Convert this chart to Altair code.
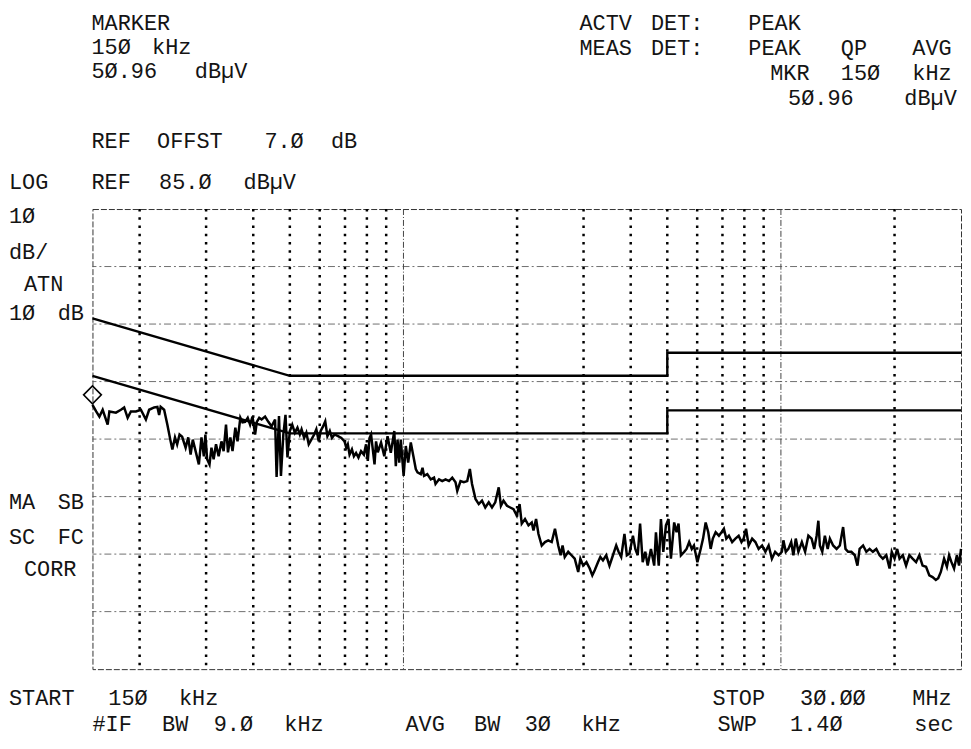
import altair as alt
import pandas as pd

# ---------------- instrument settings ----------------
START_MHZ = 0.15
STOP_MHZ = 30.0
N_POINTS = 401
REF_LEVEL = 85.0
BOTTOM_LEVEL = 5.0

# ---------------- measured trace (sweep point index, dBuV) ----------------
TRACE_IDX = [
    0.0, 1.7, 3.2, 4.7, 7.0, 7.8, 10.8, 13.1, 14.6, 16.2, 17.7, 20.0, 22.3, 24.6, 26.1, 28.4,
    29.9, 30.7, 31.4, 33.0, 34.5, 36.0, 36.8, 38.0, 39.0, 40.1, 41.3, 42.9, 44.1, 45.2, 46.2,
    47.5, 49.0, 50.2, 51.3, 52.0, 52.8, 53.9, 54.8, 55.8, 56.9, 58.1, 59.4, 60.4, 61.5, 62.4,
    63.5, 64.5, 65.8, 66.8, 68.1, 69.1, 70.3, 71.5, 72.6, 73.7, 74.9, 75.7, 76.8, 77.9, 79.5,
    81.0, 82.5, 84.1, 84.8, 85.9, 86.8, 87.9, 88.9, 89.8, 90.9, 92.0, 93.2, 94.4, 95.5, 96.3,
    97.5, 98.5, 99.6, 100.8, 102.1, 103.1, 104.2, 105.1, 106.2, 107.2, 108.2, 109.3, 110.3,
    111.5, 113.1, 114.6, 116.1, 116.9, 117.6, 118.4, 119.5, 120.4, 121.4, 122.5, 123.7, 125.0,
    126.0, 126.8, 127.6, 128.3, 129.1, 129.9, 130.6, 131.4, 132.9, 134.4, 135.9, 137.4, 139.0,
    139.7, 140.5, 141.3, 142.0, 143.3, 144.3, 145.4, 146.6, 147.8, 148.9, 149.7, 151.2, 152.0,
    152.7, 154.2, 155.8, 157.3, 158.0, 159.6, 161.1, 162.6, 164.2, 165.7, 167.2, 168.0, 169.5,
    171.0, 172.6, 173.8, 174.8, 176.4, 177.9, 179.4, 180.9, 182.5, 184.0, 185.5, 187.1, 188.1,
    189.3, 190.9, 192.4, 193.9, 195.4, 196.7, 197.7, 199.2, 200.8, 202.3, 203.1, 204.3, 205.4,
    206.9, 208.4, 209.9, 211.5, 213.0, 214.5, 215.6, 216.5, 217.5, 219.1, 220.6, 222.1, 223.7,
    224.7, 226.0, 227.5, 229.0, 230.2, 231.3, 232.8, 233.9, 235.1, 236.6, 238.1, 239.7, 241.2,
    242.3, 243.5, 245.0, 246.1, 247.3, 248.9, 250.0, 251.1, 252.2, 253.4, 254.6, 255.7, 257.2,
    258.7, 259.5, 260.8, 261.8, 262.9, 264.1, 265.3, 266.4, 267.9, 269.0, 269.9, 271.0, 272.5,
    273.6, 274.8, 276.0, 277.0, 278.6, 280.1, 281.2, 282.4, 283.6, 284.7, 285.7, 287.0, 288.5,
    289.7, 290.8, 291.9, 293.1, 294.6, 296.1, 297.6, 298.9, 299.9, 301.0, 302.2, 303.8, 305.3,
    306.8, 308.4, 309.9, 311.4, 312.9, 314.4, 316.0, 317.5, 318.2, 319.3, 320.5, 321.8, 322.8,
    323.9, 325.1, 326.7, 328.2, 329.7, 331.2, 332.4, 333.5, 334.3, 335.0, 336.1, 337.3, 338.6,
    339.6, 341.1, 342.7, 344.2, 345.7, 346.8, 348.0, 349.5, 351.1, 352.3, 353.3, 354.9, 356.4,
    357.9, 359.4, 361.0, 362.5, 364.0, 365.6, 367.1, 368.1, 369.4, 370.6, 371.7, 373.2, 374.7,
    376.2, 377.7, 379.3, 380.8, 382.3, 383.9, 385.4, 386.9, 388.4, 389.5, 390.7, 392.2, 393.5,
    394.5, 395.6, 396.8, 398.1, 399.1, 400.0,
]
TRACE_DBUV = [
    50.96, 49.8, 48.9, 50.1, 47.5, 49.8, 49.6, 50.1, 50.5, 48.7, 49.8, 49.8, 50.1, 48.4, 50.1, 50.5,
    50.6, 49.2, 50.6, 50.1, 47.5, 44.6, 43.2, 45.3, 44.1, 45.8, 45.4, 43.5, 45.3, 42.3, 44.9,
    42.9, 40.6, 45.3, 42.0, 45.8, 41.5, 40.6, 43.5, 41.5, 44.1, 42.0, 44.6, 42.9, 47.5, 42.7,
    45.3, 42.9, 47.0, 44.6, 48.7, 47.9, 48.0, 48.7, 47.5, 48.9, 45.8, 48.0, 48.7, 48.4, 48.9,
    48.0, 47.2, 48.4, 38.4, 49.0, 38.6, 45.8, 49.2, 41.8, 46.4, 47.5, 46.1, 47.0, 45.8, 46.7,
    45.2, 46.1, 44.1, 44.9, 45.8, 46.7, 44.6, 46.4, 47.2, 48.1, 45.5, 46.4, 45.2,
    45.8, 45.5, 45.2, 44.6, 43.5, 44.1, 42.3, 43.2, 42.0, 42.6, 41.8, 42.9, 42.3,
    44.1, 41.2, 45.2, 45.8, 43.2, 40.6, 44.6, 42.7, 44.4, 42.0, 45.5, 42.6, 46.4,
    40.3, 44.9, 40.9, 44.9, 38.6, 43.8, 40.9, 44.4, 42.0, 39.8, 39.2, 38.9, 40.0,
    38.6, 38.9, 38.0, 38.3, 37.2, 38.0, 37.7, 38.0, 37.7, 38.3, 37.5, 36.0, 37.7,
    37.5, 37.7, 39.8, 37.2, 34.6, 33.7, 34.3, 33.1, 34.0, 33.1, 34.0, 36.6, 33.4,
    34.3, 33.4, 33.1, 32.8, 31.7, 33.7, 30.3, 31.1, 30.0, 30.5, 29.1, 31.1, 28.5,
    26.5, 27.1, 27.4, 27.1, 29.4, 26.5, 24.8, 26.5, 24.5, 25.4, 24.8, 24.2, 21.9,
    24.2, 23.0, 23.6, 22.5, 21.3, 22.2, 23.6, 24.5, 23.9, 24.8, 23.0, 24.8, 26.5,
    25.4, 24.5, 28.5, 24.8, 25.1, 28.2, 25.9, 24.8, 30.3, 23.6, 25.4, 23.0, 25.9,
    23.0, 28.8, 23.0, 31.1, 25.4, 30.0, 31.1, 24.2, 30.5, 28.8, 30.3, 24.8, 25.4,
    25.9, 27.1, 25.9, 26.5, 23.6, 25.9, 27.7, 30.5, 28.8, 25.9, 27.7, 28.8, 28.2,
    28.8, 29.4, 27.7, 28.2, 27.1, 27.7, 28.2, 27.1, 27.7, 29.4, 26.5, 27.7, 27.1,
    25.9, 26.5, 25.4, 26.5, 24.2, 25.4, 24.8, 25.4, 27.4, 25.4, 25.9, 27.1, 24.8,
    27.7, 25.4, 27.1, 25.4, 28.2, 27.7, 25.9, 28.2, 30.8, 26.5, 25.4, 28.2, 25.9,
    27.7, 26.5, 25.9, 26.5, 29.7, 25.9, 25.4, 25.4, 24.8, 23.0, 25.9, 26.5, 25.4,
    25.9, 25.4, 25.9, 24.8, 24.2, 24.8, 22.5, 25.4, 24.2, 25.9, 24.2, 24.8, 23.0,
    24.8, 24.2, 23.6, 24.8, 23.0, 22.8, 21.3, 21.0, 20.5, 20.8, 21.9, 24.2, 22.8,
    24.8, 23.6, 22.5, 24.8, 23.0, 25.9,
]

# ---------------- limit lines (MHz, dBuV) ----------------
QP_F = [0.15, 0.5, 5.0, 5.0, 30.0]
QP_DBUV = [66.0, 56.0, 56.0, 60.0, 60.0]
AVG_F = [0.15, 0.5, 5.0, 5.0, 30.0]
AVG_DBUV = [56.0, 46.0, 46.0, 50.0, 50.0]

# ---------------- marker ----------------
MARKER_F = [0.15]
MARKER_DBUV = [50.96]

# ---------------- graticule ----------------
GRID_MINOR_F = [0.2, 0.3, 0.4, 0.5, 0.6, 0.7, 0.8, 0.9, 2, 3, 4, 5, 6, 7, 8, 9, 20]
GRID_DECADE_F = [1.0, 10.0]
GRID_LEVELS = [15, 25, 35, 45, 55, 65, 75]

# ---------------- annotation text ----------------
# (line text, baseline y, x of each word) -- words laid out on the
# plotter's character grid
TEXT_ROWS = [
    ("MARKER", 28, [92]),
    ("15Ø kHz", 52, [92, 153]),
    ("5Ø.96 dBµV", 76, [92, 196]),
    ("REF OFFST 7.Ø dB", 147, [92, 158, 266, 333]),
    ("LOG", 188, [9]),
    ("REF 85.Ø dBµV", 188, [92, 160, 245]),
    ("1Ø", 222, [9]),
    ("dB/", 258, [9]),
    ("ATN", 290, [24]),
    ("1Ø dB", 320, [9, 58]),
    ("MA SB", 510, [9, 58]),
    ("SC FC", 545, [9, 58]),
    ("CORR", 577, [24]),
    ("ACTV DET:  PEAK", 28, [583, 655, 753]),
    ("MEAS DET:  PEAK QP AVG", 53, [583, 655, 753, 846, 918]),
    ("MKR 15Ø kHz", 78, [775, 846, 918]),
    ("5Ø.96 dBµV", 103, [793, 910]),
    ("START 15Ø kHz", 707, [9, 109, 180]),
    ("#IF BW 9.Ø kHz", 733, [93, 163, 215, 286]),
    ("AVG BW 3Ø kHz", 733, [408, 477, 528, 585]),
    ("STOP 3Ø.ØØ MHz", 707, [717, 805, 918]),
    ("SWP 1.4Ø  sec", 733, [722, 795, 920]),
]

PLOT_X0, PLOT_Y0 = 93, 208
W, H = 874, 463
FONT = "Liberation Mono"
FSIZE = 22
INK = "#141414"

# ---------------- data frames ----------------
span = STOP_MHZ / START_MHZ
trace_df = pd.DataFrame({
    "i": list(range(len(TRACE_IDX))),
    "f": [START_MHZ * span ** (k / (N_POINTS - 1)) for k in TRACE_IDX],
    "db": TRACE_DBUV,
})
lim_df = pd.concat([
    pd.DataFrame({"series": "QP", "i": range(len(QP_F)), "f": QP_F, "db": QP_DBUV}),
    pd.DataFrame({"series": "AVG", "i": range(len(AVG_F)), "f": AVG_F, "db": AVG_DBUV}),
])
marker_df = pd.DataFrame({"f": MARKER_F, "db": MARKER_DBUV})

xs = alt.Scale(type="log", domain=[START_MHZ, STOP_MHZ], nice=False)
ys = alt.Scale(domain=[BOTTOM_LEVEL, REF_LEVEL], nice=False, zero=False)

hgrid = alt.Chart(pd.DataFrame({"db": GRID_LEVELS})).mark_rule(
    color="#555", strokeWidth=1, strokeDash=[7, 3, 2, 3], opacity=0.85
).encode(y=alt.Y("db:Q", scale=ys, axis=None))

vdots = alt.Chart(pd.DataFrame({"f": GRID_MINOR_F})).mark_rule(
    color="#000", strokeWidth=2.5, strokeDash=[2.5, 5.8]
).encode(x=alt.X("f:Q", scale=xs, axis=None))

vdec = alt.Chart(pd.DataFrame({"f": GRID_DECADE_F})).mark_rule(
    color="#444", strokeWidth=1, strokeDash=[6, 2, 1, 2]
).encode(x=alt.X("f:Q", scale=xs, axis=None))

limits = alt.Chart(lim_df).mark_line(color="#000", strokeWidth=2.4).encode(
    x=alt.X("f:Q", scale=xs, axis=None),
    y=alt.Y("db:Q", scale=ys, axis=None),
    detail="series:N",
    order="i:Q",
)

trace = alt.Chart(trace_df).mark_line(color="#000", strokeWidth=2.5).encode(
    x=alt.X("f:Q", scale=xs, axis=None),
    y=alt.Y("db:Q", scale=ys, axis=None),
    order="i:Q",
)

marker = alt.Chart(marker_df).mark_point(
    shape="diamond", filled=False, size=320, color="#000", strokeWidth=1.6, yOffset=-10, opacity=1
).encode(
    x=alt.X("f:Q", scale=xs, axis=None),
    y=alt.Y("db:Q", scale=ys, axis=None),
)


def word_label(word, px, py):
    return alt.Chart(pd.DataFrame({"t": [word]})).mark_text(
        align="left", baseline="alphabetic", font=FONT, fontSize=FSIZE, color=INK
    ).encode(text="t:N", x=alt.value(px - PLOT_X0), y=alt.value(py - PLOT_Y0))


texts = []
for line, base_y, xs_words in TEXT_ROWS:
    for word, px in zip(line.split(), xs_words):
        texts.append(word_label(word, px, base_y))

chart = alt.layer(hgrid, vdots, vdec, limits, trace, marker, *texts).properties(
    width=W,
    height=H,
    padding={"left": PLOT_X0 - 8, "top": PLOT_Y0 - 8, "right": 2, "bottom": 66},
    autosize=alt.AutoSizeParams(type="none"),
    background="white",
).configure_view(stroke="#333", strokeWidth=1, strokeDash=[6, 2])

chart.save("out.html", embed_options={"renderer": "svg", "actions": False})
